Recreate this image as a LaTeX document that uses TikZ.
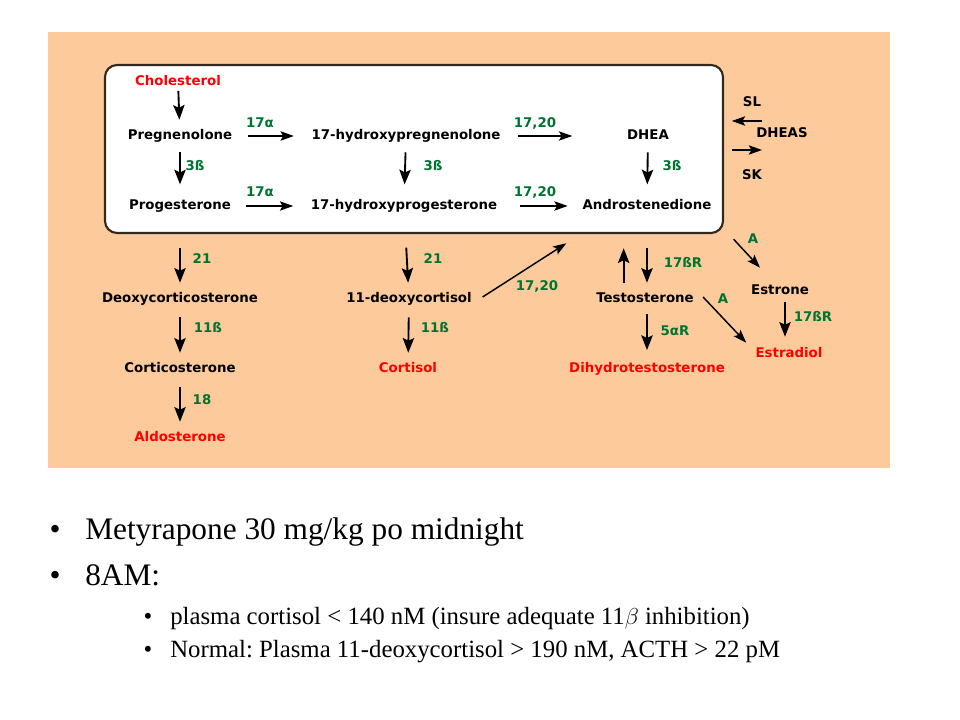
\documentclass[tikz,border=0pt]{standalone}
\usepackage{fontspec}
\setmainfont{Liberation Serif}
\newfontfamily\chemfont{DejaVu Sans}
\usetikzlibrary{arrows.meta}
\definecolor{peach}{RGB}{253,203,155}
\definecolor{enzgreen}{RGB}{0,115,50}
\definecolor{boxline}{RGB}{50,40,30}
\frenchspacing
\begin{document}
\begin{tikzpicture}[x=0.75pt,y=-0.75pt,
	chem/.style={font=\chemfont\bfseries\fontsize{10}{12}\selectfont, inner sep=1pt,
		text height=7.6pt, text depth=2.4pt},
	prod/.style={chem, text=red},
	enz/.style={chem, text=enzgreen},
	flow/.style={-{Stealth[length=11pt,width=8.5pt,inset=2pt]}, line width=1.4pt, shorten <=6pt, shorten >=6pt},
	side/.style={-{Stealth[length=10pt,width=7pt,inset=2pt]}, line width=1.1pt},
	bigtxt/.style={font=\fontsize{23.5}{28}\selectfont, inner sep=0pt, anchor=base west},
	smalltxt/.style={font=\fontsize{18.6}{23}\selectfont, inner sep=0pt, anchor=base west}]
	\useasboundingbox (0,0) rectangle (960,720);
	\fill [peach] (48,32) rectangle (890,468);
	\draw [boxline, fill=white, line width=1.6pt, rounded corners=9pt] (105,65) rectangle (723,233);

	% steroids
	\node [prod] (chol) at (178,82) {Cholesterol};
	\node [chem] (preg) at (180,136) {Pregnenolone};
	\node [chem] (prog) at (180,206) {Progesterone};
	\node [chem] (doc) at (180,299) {Deoxycorticosterone};
	\node [chem] (cort) at (180,369) {Corticosterone};
	\node [prod] (aldo) at (180,438) {Aldosterone};
	\node [chem] (hpreg) at (406,136) {17-hydroxypregnenolone};
	\node [chem] (hprog) at (404,206) {17-hydroxyprogesterone};
	\node [chem] (dcort) at (409,299) {11-deoxycortisol};
	\node [prod] (cortisol) at (408,369) {Cortisol};
	\node [chem] (dhea) at (648,136) {DHEA};
	\node [chem] (andro) at (647,206) {Androstenedione};
	\node [chem] (testo) at (645,299) {Testosterone};
	\node [prod] (dht) at (647,369) {Dihydrotestosterone};
	\node [chem] (estrone) at (780,291) {Estrone};
	\node [prod] (estradiol) at (789,354) {Estradiol};
	\node [chem] (dheas) at (782,134) {DHEAS};
	\node [chem] (sl) at (752,103) {SL};
	\node [chem] (sk) at (752,176) {SK};

	% enzymes
	\node [enz] (e17a) at (260,124) {17α};
	\node [enz] (e17b) at (260,193) {17α};
	\node [enz] (l17a) at (535,124) {17,20};
	\node [enz] (l17b) at (535,193) {17,20};
	\node [enz] (l17c) at (537,287) {17,20};
	\node [enz] (b3a) at (195,167) {3ß};
	\node [enz] (b3b) at (433,167) {3ß};
	\node [enz] (b3c) at (672,167) {3ß};
	\node [enz] (h21a) at (202,260) {21};
	\node [enz] (h21b) at (433,260) {21};
	\node [enz] (b11a) at (208,329) {11ß};
	\node [enz] (b11b) at (435,329) {11ß};
	\node [enz] (h18) at (202,401) {18};
	\node [enz] (r17a) at (683,264) {17ßR};
	\node [enz] (r17b) at (813,318) {17ßR};
	\node [enz] (r5a) at (675,332) {5αR};
	\node [enz] (aroma) at (753,240) {A};
	\node [enz] (aromb) at (723,300) {A};

	\draw [flow, shorten <=0.5pt] (chol) -- (preg);
	\draw [flow, shorten >=10pt] (preg) -- (prog);
	\draw [flow, shorten >=10pt] (hpreg) -- (hprog);
	\draw [flow, shorten >=10pt] (dhea) -- (andro);
	\draw [flow, shorten <=25pt] (prog) -- (doc);
	\draw [flow, shorten <=7.5pt] (doc) -- (cort);
	\draw [flow, shorten <=7.5pt] (cort) -- (aldo);
	\draw [flow, shorten <=25pt] (hprog) -- (dcort);
	\draw [flow, shorten <=7.5pt] (dcort) -- (cortisol);

	\draw [side, shorten <=10.5pt, shorten >=12pt] (preg) -- (hpreg);
	\draw [side, shorten <=10.5pt, shorten >=12pt] (prog) -- (hprog);
	\draw [side, shorten <=12pt, shorten >=40pt] (hpreg) -- (dhea);
	\draw [side, shorten <=16pt, shorten >=10pt] (hprog) -- (andro);

	\draw [side] ([xshift=7pt,yshift=1.5pt]dcort.east) -- ([xshift=-11pt,yshift=-21.75pt]andro.south west);
	\draw [flow, shorten >=25.5pt] ([xshift=-16pt]testo.north) -- ([xshift=-16pt]testo.north |- andro.south);
	\draw [flow, shorten <=25.5pt] (andro.south) -- (andro.south |- testo.north);
	\draw [flow, shorten <=5pt, shorten >=8pt] ([xshift=1.5pt]testo.south) -- ([xshift=1.5pt]testo.south |- dht.north);
	\draw [side] ([xshift=5.8pt,yshift=1.5pt]testo.east) -- ([xshift=-5.8pt,yshift=2.25pt]estradiol.north west);
	\draw [side] ([xshift=15.5pt,yshift=-18.75pt]andro.south east) -- ([xshift=-15pt,yshift=11.25pt]estrone.north);
	\draw [flow, shorten <=2pt, shorten >=6.75pt] ([xshift=3.75pt]estrone.south) -- ([xshift=3.75pt]estrone.south |- estradiol.north);

	\draw [side] ([xshift=5.25pt,yshift=9.75pt]dheas.west) -- ++(-30,0);
	\draw [side] ([xshift=-17pt,yshift=-12pt]dheas.west) -- ++(30,0);

	% slide text
	\node [bigtxt, anchor=base] (d1) at (55,539) {•};
	\node [bigtxt] (t1) at (85,539) {Metyrapone 30 mg/kg po midnight};
	\node [bigtxt, anchor=base] (d2) at (55,585) {•};
	\node [bigtxt] (t2) at (85,585) {8AM:};
	\node [smalltxt, anchor=base] (d3) at (148,624) {•};
	\node [smalltxt] (t3) at (170,624) {plasma cortisol < 140 nM (insure adequate 11$\beta$ inhibition)};
	\node [smalltxt, anchor=base] (d4) at (148,657) {•};
	\node [smalltxt] (t4) at (170,657) {Normal: Plasma 11-deoxycortisol > 190 nM, ACTH > 22 pM};
\end{tikzpicture}
\end{document}
